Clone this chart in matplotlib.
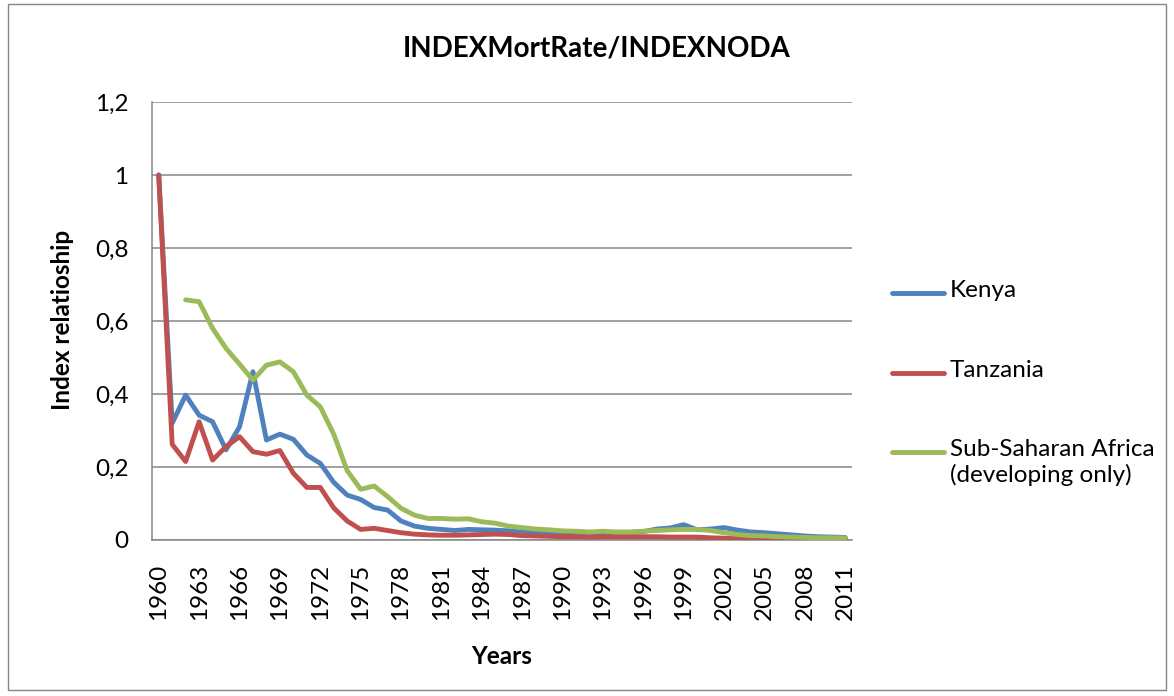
import numpy as np
import matplotlib
matplotlib.use('Agg')
from matplotlib import pyplot as plt
from matplotlib.lines import Line2D
from matplotlib.patches import Rectangle

plt.rcParams['font.family'] = ['Lato', 'DejaVu Sans']

# dados
years = list(range(1960, 2012))
kenya = [1.0, 0.32, 0.397, 0.342, 0.324, 0.247, 0.31, 0.461, 0.274, 0.29,
         0.276, 0.233, 0.21, 0.158, 0.123, 0.111, 0.089, 0.082, 0.052, 0.038,
         0.032, 0.029, 0.026, 0.029, 0.028, 0.027, 0.025, 0.022, 0.019, 0.016,
         0.014, 0.021, 0.02, 0.02, 0.021, 0.021, 0.023, 0.03, 0.033, 0.042,
         0.028, 0.03, 0.034, 0.027, 0.022, 0.02, 0.017, 0.014, 0.011, 0.009,
         0.008, 0.007]
tanzania = [1.0, 0.262, 0.215, 0.324, 0.219, 0.256, 0.283, 0.242, 0.235, 0.245,
            0.183, 0.144, 0.144, 0.088, 0.052, 0.029, 0.032, 0.026, 0.02, 0.016,
            0.014, 0.013, 0.013, 0.014, 0.015, 0.016, 0.015, 0.012, 0.011, 0.01,
            0.009, 0.009, 0.008, 0.009, 0.009, 0.009, 0.009, 0.009, 0.008, 0.008,
            0.008, 0.006, 0.005, 0.004, 0.004, 0.004, 0.003, 0.003, 0.003, 0.003,
            0.002, 0.002]
ssa = [np.nan, np.nan, 0.658, 0.653, 0.58, 0.525, 0.482, 0.438, 0.479, 0.488,
       0.461, 0.397, 0.365, 0.29, 0.19, 0.139, 0.148, 0.119, 0.087, 0.068,
       0.059, 0.059, 0.057, 0.058, 0.05, 0.046, 0.038, 0.034, 0.03, 0.028,
       0.025, 0.024, 0.022, 0.024, 0.022, 0.022, 0.024, 0.026, 0.028, 0.029,
       0.029, 0.026, 0.02, 0.015, 0.012, 0.011, 0.009, 0.008, 0.007, 0.006,
       0.006, 0.006]
names = ['Kenya', 'Tanzania', 'Sub-Saharan Africa\n(developing only)']
cores = ['#4F81BD', '#C0504D', '#9BBB59']
yticks = [0, 0.2, 0.4, 0.6, 0.8, 1.0, 1.2]

fs = 17.5

fig = plt.figure(figsize=(11.74, 6.96), dpi=100)
ax = fig.add_axes([152 / 1174, 1 - 540 / 696, 700 / 1174, 438 / 696])

x = np.arange(len(years))
for serie, cor in zip([kenya, tanzania, ssa], cores):
    ax.plot(x, serie, color=cor, lw=3.5, solid_capstyle='round',
            solid_joinstyle='round', zorder=3)

ax.set_xlim(-0.5, len(years) - 0.5)
ax.set_ylim(0, 1.2)
ax.set_yticks(yticks)
ax.set_yticklabels([('%g' % v).replace('.', ',') for v in yticks], fontsize=fs)
ax.set_xticks(x[::3])
ax.set_xticklabels([str(a) for a in years[::3]], rotation=90, fontsize=fs)
ax.tick_params(axis='both', length=0)
ax.tick_params(axis='y', pad=17)
ax.tick_params(axis='x', pad=17)
ax.yaxis.grid(True, color='#868686', lw=1.1)
ax.set_axisbelow(True)
for s in ['top', 'right']:
    ax.spines[s].set_visible(False)
for s in ['left', 'bottom']:
    ax.spines[s].set_color('#868686')
    ax.spines[s].set_linewidth(1.1)

fig.text(597 / 1174, 1 - 48 / 696, 'INDEXMortRate/INDEXNODA', ha='center',
         va='center', fontsize=20, fontweight='bold')
fig.text(62 / 1174, 1 - 320 / 696, 'Index relatioship', rotation=90,
         ha='center', va='center', fontsize=fs, fontweight='bold')
fig.text(502 / 1174, 1 - 657 / 696, 'Years', ha='center', va='center',
         fontsize=fs, fontweight='bold')

# legenda
for i, (nome, cor) in enumerate(zip(names, cores)):
    yy = 1 - (293 + 79.5 * i) / 696
    fig.add_artist(Line2D([892 / 1174, 944 / 1174], [yy, yy], color=cor,
                          lw=3.5, solid_capstyle='round'))
    fig.text(950 / 1174, yy + 13 / 696, nome, ha='left', va='top',
             fontsize=fs, linespacing=1.2)

# moldura
fig.add_artist(Rectangle((8 / 1174, 6 / 696), 1158 / 1174, 686 / 696,
                         fill=False, edgecolor='#868686', lw=1.0,
                         transform=fig.transFigure))

fig.savefig('out.png', dpi=100)
